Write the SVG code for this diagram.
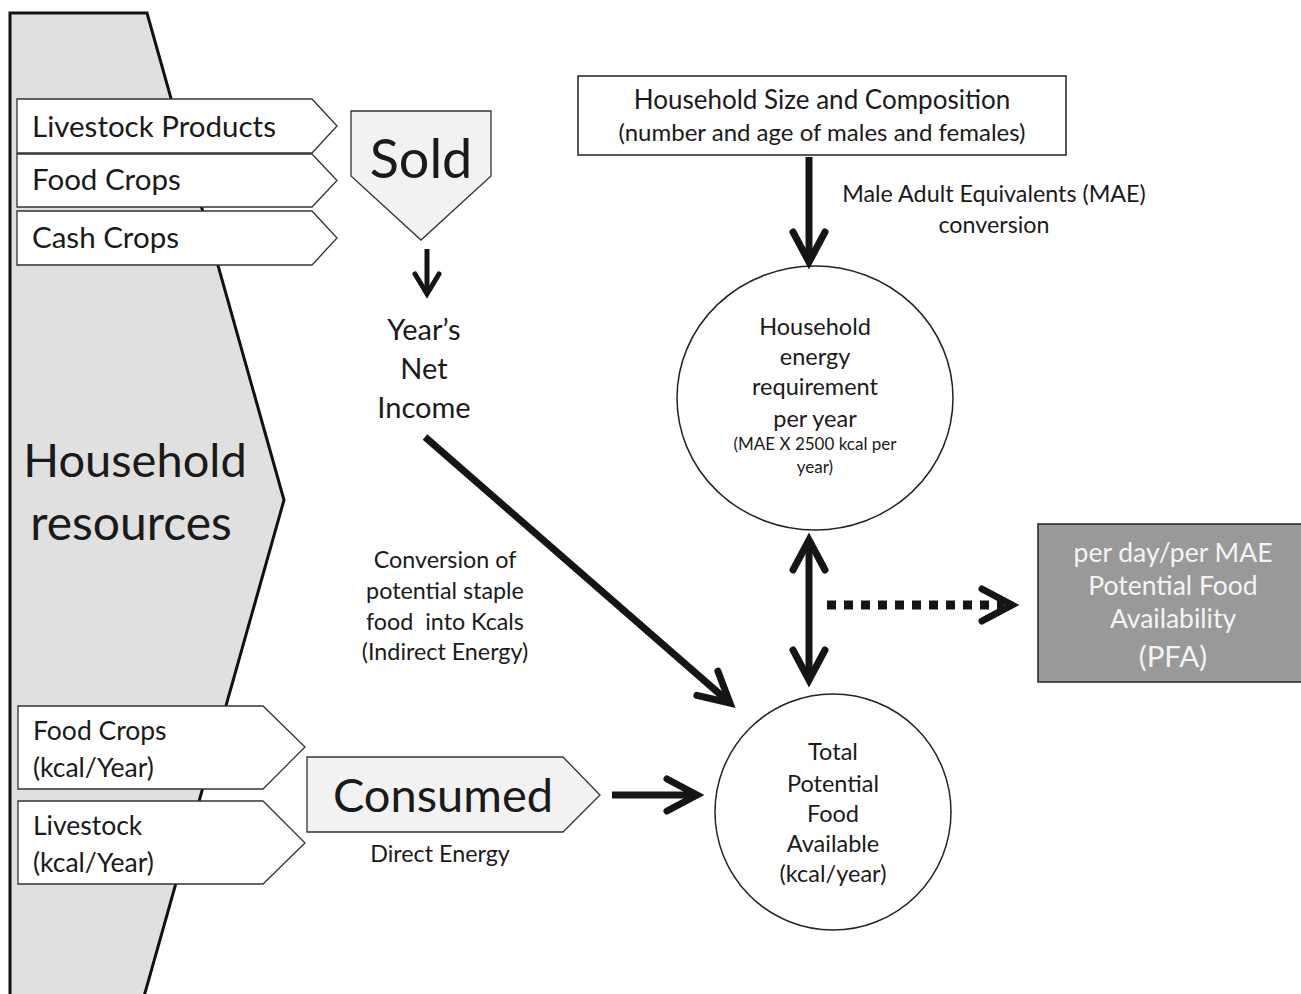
<svg xmlns="http://www.w3.org/2000/svg" width="1301" height="994" viewBox="0 0 1301 994">
<style>
text{font-family:Lato,"Liberation Sans",sans-serif;fill:#1a1a1a}
.c{text-anchor:middle}
.box{fill:#fff;stroke:#333;stroke-width:1.3}
.shape{fill:#f2f2f2;stroke:#333;stroke-width:1.3}
.circ{fill:#fff;stroke:#222;stroke-width:1.5}
.arr{fill:none;stroke:#151515;stroke-width:7}
.lbl{font-size:23.3px}
.pfa{fill:#f4f4f4}
</style>
<defs>
<marker id="chev" markerUnits="userSpaceOnUse" viewBox="-40 -25 50 50" refX="0" refY="0" markerWidth="50" markerHeight="50" orient="auto-start-reverse" overflow="visible">
<path d="M-30 -16 L0 0 L-30 16" fill="none" stroke="#151515" stroke-width="7" stroke-linecap="round" stroke-linejoin="miter"/>
</marker>
<marker id="chevS" markerUnits="userSpaceOnUse" viewBox="-30 -20 40 40" refX="0" refY="0" markerWidth="40" markerHeight="40" orient="auto" overflow="visible">
<path d="M-20 -12 L0 0 L-20 12" fill="none" stroke="#151515" stroke-width="5" stroke-linecap="round"/>
</marker>
</defs>
<rect width="1301" height="994" fill="#fff"/>

<g id="household-resources">
<path d="M10 1000 V13 H147 L284 500 L143 1000" fill="#e0e0e0" stroke="#111" stroke-width="3"/>
<text class="c" x="135" y="477" font-size="47">Household</text>
<text class="c" x="131" y="540" font-size="48">resources</text>
</g>

<g id="livestock-products">
<path class="box" d="M17 99 H312 L337 126 L312 153 H17 Z"/>
<text x="32" y="137" font-size="29.5">Livestock Products</text>
</g>
<g id="food-crops">
<path class="box" d="M17 154 H312 L337 180.5 L312 207 H17 Z"/>
<text x="32" y="190" font-size="29.5">Food Crops</text>
</g>
<g id="cash-crops">
<path class="box" d="M17 211 H312 L337 238 L312 265 H17 Z"/>
<text x="32" y="248" font-size="29.5">Cash Crops</text>
</g>

<g id="sold">
<path class="shape" d="M351 111 H491 V176 L421 240 L351 176 Z"/>
<text class="c" x="421" y="178" font-size="54">Sold</text>
</g>

<g id="net-income">
<text class="c" x="424" y="340" font-size="29">Year’s</text>
<text class="c" x="424" y="379" font-size="29">Net</text>
<text class="c" x="424" y="418" font-size="29">Income</text>
</g>

<g id="food-crops-kcal">
<path class="box" d="M18 706 H263 L305 747 L263 789 H18 Z"/>
<text x="33" y="740" font-size="26.5">Food Crops</text>
<text x="33" y="777" font-size="26.5">(kcal/Year)</text>
</g>
<g id="livestock-kcal">
<path class="box" d="M18 801 H263 L305 843 L263 884 H18 Z"/>
<text x="33" y="835" font-size="26.5">Livestock</text>
<text x="33" y="872" font-size="26.5">(kcal/Year)</text>
</g>

<g id="consumed">
<path class="shape" d="M307 757 H563 L600 795 L563 832 H307 Z"/>
<text class="c" x="443" y="812" font-size="47">Consumed</text>
</g>

<g id="household-size">
<rect x="578" y="76" width="488" height="79" fill="#fff" stroke="#222" stroke-width="1.5"/>
<text class="c" x="822" y="109" font-size="26">Household Size and Composition</text>
<text class="c" x="822" y="141" font-size="24">(number and age of males and females)</text>
</g>

<g id="energy-requirement">
<ellipse class="circ" cx="815" cy="398" rx="138" ry="132"/>
<text class="c" x="815" y="335" font-size="23.5">Household</text>
<text class="c" x="815" y="365" font-size="23.5">energy</text>
<text class="c" x="815" y="395" font-size="23.5">requirement</text>
<text class="c" x="815" y="427" font-size="23.5">per year</text>
<text class="c" x="815" y="450" font-size="17">(MAE X 2500 kcal per</text>
<text class="c" x="815" y="473" font-size="17">year)</text>
</g>

<g id="total-food">
<circle class="circ" cx="833" cy="812" r="118"/>
<text class="c" x="833" y="760" font-size="23.5">Total</text>
<text class="c" x="833" y="792" font-size="23.5">Potential</text>
<text class="c" x="833" y="822" font-size="23.5">Food</text>
<text class="c" x="833" y="852" font-size="23.5">Available</text>
<text class="c" x="833" y="882" font-size="23.5">(kcal/year)</text>
</g>

<g id="pfa">
<rect x="1038" y="524" width="275" height="158" fill="#999" stroke="#222" stroke-width="1.5"/>
<text class="c pfa" x="1173" y="562" font-size="26.5">per day/per MAE</text>
<text class="c pfa" x="1173" y="595" font-size="26.5">Potential Food</text>
<text class="c pfa" x="1173" y="628" font-size="26.5">Availability</text>
<text class="c pfa" x="1173" y="667" font-size="29.5">(PFA)</text>
</g>

<g id="connectors">
<path d="M427 249 V294" fill="none" stroke="#151515" stroke-width="5" marker-end="url(#chevS)"/>
<path class="arr" d="M425 437 L730 703" marker-end="url(#chev)"/>
<path class="arr" d="M612 795 H697" marker-end="url(#chev)"/>
<path class="arr" d="M809 157 V262" marker-end="url(#chev)"/>
<path class="arr" d="M809 540 V680" marker-start="url(#chev)" marker-end="url(#chev)"/>
<path d="M827 605 H1004" fill="none" stroke="#151515" stroke-width="9" stroke-dasharray="9 8"/>
<path d="M827 605 H1012" fill="none" stroke="none" marker-end="url(#chev)"/>
<text class="c lbl" x="445" y="568">Conversion of</text>
<text class="c lbl" x="445" y="599">potential staple</text>
<text class="c lbl" x="445" y="630" style="white-space:pre">food  into Kcals</text>
<text class="c lbl" x="445" y="660">(Indirect Energy)</text>
<text class="c lbl" x="440" y="862">Direct Energy</text>
<text class="c lbl" x="994" y="202">Male Adult Equivalents (MAE)</text>
<text class="c lbl" x="994" y="233">conversion</text>
</g>
</svg>
